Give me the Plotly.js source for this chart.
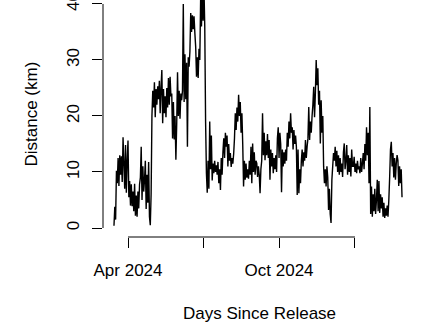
<!DOCTYPE html>
<html>
<head>
<meta charset="utf-8">
<script src="https://cdn.plot.ly/plotly-3.0.1.min.js"></script>
<style>html,body{margin:0;padding:0;background:#fff;}#chart{width:428px;height:334px;}</style>
</head>
<body>
<div id="chart"></div>
<script>
// Daily distance (km), starting on startDate
const startDate = '2024-03-15';
const distanceKm = [
  0.4, 3.8, 1.5, 10.2,
  8.0, 12.5, 7.5, 13.0, 9.5, 12.8, 8.2, 16.2,
  11.5, 7.0, 14.8, 6.3, 12.0,
  15.6, 5.5, 8.4, 4.0, 7.8, 3.9,
  6.5, 3.0, 7.9, 2.2, 5.8, 2.0, 6.5, 3.5, 7.8,
  9.0, 14.5, 5.0, 11.0, 6.5, 8.5,
  12.0, 3.4, 9.5, 4.5, 11.8, 2.0,
  0.5, 6.0,
  20.0, 24.5, 21.5, 26.0, 19.8, 24.8, 22.0,
  25.3, 23.0, 26.3, 20.5, 25.0,
  28.2, 18.7,
  24.8, 20.5, 23.5, 19.8, 25.0, 21.5, 26.8, 22.0,
  27.0, 23.5,
  24.0, 16.0, 22.5, 15.8, 20.0, 12.2,
  18.5, 27.8, 20.0, 24.5,
  19.5, 24.0, 22.8, 24.5,
  40.0,
  22.5, 31.0, 23.0, 29.5,
  14.5, 30.5,
  28.8, 31.5,
  38.4, 35.0, 38.0, 35.5, 37.8, 34.8,
  32.3, 27.0, 30.5, 26.8,
  32.0, 30.0,
  41.0, 36.0, 42.0, 37.0, 43.0, 36.0,
  19.0, 9.8, 6.3, 12.0, 7.0,
  19.0, 10.5, 16.5, 8.5, 11.5, 9.8, 12.0, 10.0, 11.2, 9.5, 11.8, 8.0, 10.5, 6.8, 12.5, 9.5,
  13.5, 16.0, 12.5, 17.0, 14.5, 16.5, 11.0, 15.0,
  12.0, 13.4, 10.9, 12.5, 11.5, 13.2,
  16.0, 20.5, 17.5, 21.5, 19.0, 23.8, 20.0, 22.5, 17.0, 20.5, 15.0, 7.4,
  12.0, 8.6, 11.5, 9.0, 10.5, 8.8, 12.0, 9.5, 14.5, 8.0,
  15.1, 10.0, 13.5, 9.5, 12.0,
  11.6, 9.1, 11.0, 9.5, 6.2, 10.5, 12.0,
  20.5, 13.0,
  17.0, 12.1, 15.5, 13.0, 16.8, 12.5,
  15.7, 8.6, 14.0, 11.0,
  13.4, 9.8, 12.5, 10.5, 13.0, 10.0,
  16.0, 18.0, 12.5, 17.0, 15.0,
  6.4,
  14.0, 11.0, 13.5, 11.5, 14.0, 12.0,
  17.0, 14.5, 19.0, 16.0, 20.5, 17.0,
  18.0, 14.0, 17.5, 15.0, 16.5, 14.5,
  5.9, 14.0, 6.2, 10.5, 8.0,
  12.0, 14.0, 11.0, 13.5, 12.0, 15.7, 12.5, 14.5,
  16.0, 21.6, 15.7, 19.0, 17.0, 20.0,
  22.0, 25.2, 19.8, 24.0,
  30.0, 25.5, 28.5, 22.0,
  24.5, 15.1, 22.8, 17.0, 20.0,
  11.0, 8.0, 10.5, 7.4, 11.0, 9.0,
  3.2, 7.0, 2.5, 0.9,
  8.6, 11.0, 13.4,
  12.0, 14.5, 11.0, 13.8, 10.0, 13.0, 9.5, 12.5, 10.0, 11.5, 9.1, 13.5, 15.1, 10.5,
  12.0, 14.8, 9.5, 13.0, 10.0, 12.5, 9.2, 14.0, 11.0,
  11.0, 12.7, 10.0, 11.5, 9.8, 12.0, 10.5, 11.0, 9.8, 12.5, 10.0, 11.5,
  13.4, 10.5, 15.0, 12.0, 18.0, 13.0,
  17.0, 8.0, 21.6, 2.5,
  7.4, 2.0, 6.0, 3.0, 7.0, 2.5,
  5.0, 8.6, 3.0, 8.4, 2.7, 6.0, 3.5, 5.5,
  2.0, 4.5, 1.8, 3.5, 2.2, 4.0, 2.0, 5.0,
  9.0, 14.0, 15.4, 11.0,
  13.4, 9.0, 12.5, 8.6, 11.5, 13.0,
  12.1, 7.5, 11.0, 8.0, 10.5, 5.5
];
const xTickVals = ['2024-04-01', '2024-07-01', '2024-10-01', '2025-01-01'];
const xTickText = ['Apr 2024', '', 'Oct 2024', ''];
const yTickVals = [0, 10, 20, 30, 40];

const DAY = 86400000;
const t0 = Date.parse(startDate + 'T00:00:00Z');
const dates = distanceKm.map((_, i) => new Date(t0 + i * DAY).toISOString().slice(0, 10));

const FONT = 'Liberation Sans, Arial, sans-serif';

const trace = {
  x: dates, y: distanceKm, type: 'scatter', mode: 'lines',
  line: {color: '#000', width: 1.4, simplify: false},
  hoverinfo: 'skip'
};

const layout = {
  width: 428, height: 334,
  margin: {l: 103, r: 13, t: 0, b: 97},
  paper_bgcolor: '#fff', plot_bgcolor: '#fff',
  showlegend: false,
  font: {family: FONT, size: 17, color: '#000'},
  xaxis: {
    type: 'date',
    range: ['2024-03-01 17:00', '2025-03-14 17:00'],
    tickvals: xTickVals, ticktext: xTickText,
    ticks: 'outside', ticklen: 10, tickwidth: 1, tickcolor: '#000',
    showgrid: false, zeroline: false, showline: false,
    tickfont: {family: FONT, size: 17, color: '#000'},
    ticklabelstandoff: 8
  },
  yaxis: {
    range: [-1.607, 40.71],
    tickvals: yTickVals,
    ticks: 'outside', ticklen: 10, tickwidth: 1, tickcolor: '#000',
    tickangle: -90,
    ticklabeloverflow: 'allow',
    showgrid: false, zeroline: false, showline: false,
    tickfont: {family: FONT, size: 17, color: '#000'},
    ticklabelstandoff: 6
  },
  shapes: [
    {type: 'line', xref: 'paper', yref: 'y', x0: 0, x1: 0, y0: yTickVals[0], y1: yTickVals[yTickVals.length - 1],
     line: {color: '#000', width: 1}},
    {type: 'line', xref: 'x', yref: 'paper', x0: xTickVals[0], x1: xTickVals[xTickVals.length - 1], y0: 0, y1: 0,
     line: {color: '#000', width: 1}}
  ],
  annotations: [
    {text: 'Days Since Release', xref: 'paper', yref: 'paper', x: 0.5, y: -0.3207,
     xanchor: 'center', yanchor: 'middle', showarrow: false, font: {family: FONT, size: 17, color: '#000'}},
    {text: 'Distance (km)', xref: 'paper', yref: 'paper', x: -0.2276, y: 0.521, textangle: -90,
     xanchor: 'center', yanchor: 'middle', showarrow: false, font: {family: FONT, size: 17, color: '#000'}}
  ]
};

Plotly.newPlot('chart', [trace], layout, {staticPlot: true, displayModeBar: false});
</script>
</body>
</html>
